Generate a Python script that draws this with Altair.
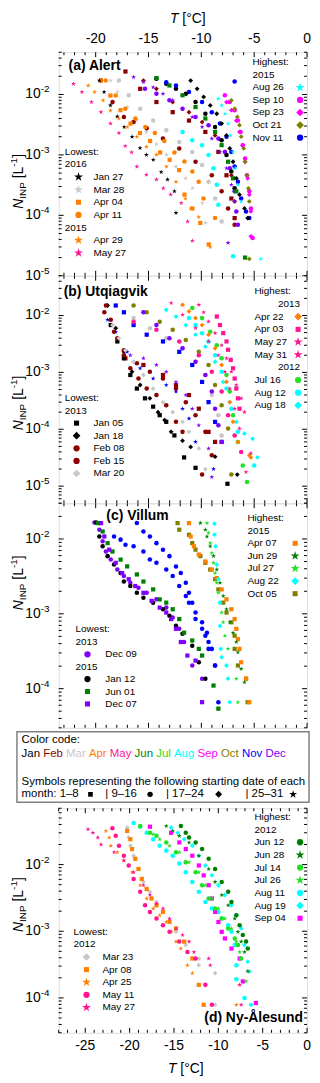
import altair as alt
import pandas as pd

FONT = "Liberation Sans"
W = 250

MONTHS = ["Jan", "Feb", "Mar", "Apr", "May", "Jun", "Jul", "Aug", "Sep", "Oct", "Nov", "Dec"]
MONTH_COLORS = ["#000000", "#8B0000", "#C8C8C8", "#FF8000", "#FF1493", "#008000",
                "#22E022", "#00FFFF", "#FF00FF", "#808000", "#0000FF", "#8000FF"]
DAY_GROUPS = ["1–8", "9–16", "17–24", "25–31"]
STAR = ("M0,-1L0.2245,-0.309L0.951,-0.309L0.363,0.118L0.588,0.809L0,0.382"
        "L-0.588,0.809L-0.363,0.118L-0.951,-0.309L-0.2245,-0.309Z")
SHAPES = ["square", "circle", "diamond", STAR]
PT_SIZE = [18, 26, 36, 56]
LG_SIZE = [26, 40, 60, 90]

# ---------------- Panel (a) Alert ----------------
a_may27 = dict(m=5, d=27, T=[-22.1, -21.3, -20.4, -19.5, -18.6, -17.8, -17.2, -16.6, -16.1, -15.2, -14.25, -13.6, -12.9, -11.9, -11.3, -10.85],
               N=[1.5e-2, 1.1e-2, 7.5e-3, 5.1e-3, 3.3e-3, 2.3e-3, 1.4e-3, 1.1e-3, 6.4e-4, 4.7e-4, 3.9e-4, 2.8e-4, 2.2e-4, 1.6e-4, 7.9e-5, 3.8e-5])
a_apr29 = dict(m=4, d=29, T=[-20.7, -20.1, -19.3, -18.6, -17.8, -17.0, -16.1, -15.2, -14.25, -13.3, -12.4, -11.5, -11.0, -10.25, -9.15],
               N=[1.4e-2, 1.1e-2, 8.0e-3, 5.4e-3, 4.0e-3, 2.9e-3, 2.0e-3, 1.36e-3, 1.0e-3, 6.4e-4, 3.6e-4, 1.9e-4, 1.3e-4, 9.4e-5, 3.0e-5])
a_jan27 = dict(m=1, d=27, T=[-19.65, -19.2, -18.6, -17.95, -17.3, -16.55, -15.8, -15.2, -14.55, -13.8, -13.2, -12.55, -12.4],
               N=[1.7e-2, 1.1e-2, 6.6e-3, 4.3e-3, 2.9e-3, 2.0e-3, 1.3e-3, 1.0e-3, 8.3e-4, 5.2e-4, 3.9e-4, 2.5e-4, 1.1e-4])
a_mar28 = dict(m=3, d=28, T=[-18.6, -17.95, -17.0, -16.1, -15.2, -14.25, -13.3, -12.4, -11.5, -10.85, -9.9, -9.6],
               N=[1.7e-2, 1.1e-2, 6.2e-3, 3.8e-3, 2.4e-3, 1.5e-3, 1.0e-3, 6.4e-4, 4.1e-4, 2.8e-4, 1.6e-4, 7.5e-5])
a_apr04 = dict(m=4, d=4, T=[-19.5, -18.6, -17.65, -16.7, -15.8, -14.85, -13.9, -13.0, -12.1, -11.6, -10.85, -10.1, -9.3],
               N=[1.7e-2, 9.6e-3, 5.5e-3, 3.3e-3, 2.3e-3, 1.7e-3, 1.1e-3, 8.3e-4, 5.6e-4, 2.2e-4, 1.3e-4, 7.5e-5, 3.3e-5])
a_apr11 = dict(m=4, d=11, T=[-19.05, -18.1, -17.2, -16.25, -15.3, -14.4, -13.5, -12.55, -11.6, -10.85, -10.25, -9.8, -8.7],
               N=[1.7e-2, 9.6e-3, 5.8e-3, 4.0e-3, 2.9e-3, 2.3e-3, 1.7e-3, 1.1e-3, 7.8e-4, 5.3e-4, 3.6e-4, 1.9e-4, 9.0e-5])
a_feb03 = dict(m=2, d=3, T=[-17.18, -15.79, -14.25, -12.71, -11.17, -9.62, -8.39, -7.62, -7.16, -6.85],
               N=[2.4e-2, 1.24e-2, 7.5e-3, 5.1e-3, 3.7e-3, 2.4e-3, 1.12e-3, 4.6e-4, 1.9e-4, 9.0e-5])
a_feb12 = dict(m=2, d=12, T=[-19.49, -18.4, -17.33, -16.41, -15.17, -13.63, -12.09, -10.55, -9.01, -8.08, -7.47, -6.85],
               N=[1.7e-2, 7.5e-3, 4.25e-3, 3.5e-3, 2.75e-3, 1.86e-3, 1.28e-3, 7.7e-4, 4.6e-4, 2.5e-4, 1.3e-4, 7.0e-5])
a_feb20 = dict(m=2, d=20, T=[-15.48, -14.25, -12.71, -11.17, -9.93, -8.70, -7.77, -7.16, -6.85],
               N=[1.7e-2, 1.24e-2, 7.5e-3, 5.1e-3, 3.5e-3, 2.1e-3, 1.12e-3, 4.6e-4, 1.7e-4])
a_dec28 = dict(m=12, d=28, T=[-16.41, -15.48, -14.56, -13.63, -12.71, -11.78, -10.86, -9.93, -9.01, -8.24, -7.62, -7.16, -6.85, -7.47],
               N=[1.94e-2, 1.6e-2, 1.32e-2, 1.03e-2, 8.0e-3, 5.8e-3, 4.25e-3, 2.9e-3, 1.86e-3, 1.12e-3, 6.0e-4, 3.2e-4, 1.7e-4, 3.5e-5])
a_dec10 = dict(m=12, d=10, T=[-15.33, -14.25, -13.02, -11.78, -10.55, -9.32, -8.39, -7.77, -7.31, -6.85, -6.69, -6.54],
               N=[1.24e-2, 1.03e-2, 8.0e-3, 5.8e-3, 4.25e-3, 3.1e-3, 1.86e-3, 1.12e-3, 6.0e-4, 2.5e-4, 1.16e-4, 7.0e-5])
a_jan20 = dict(m=1, d=20, T=[-11.01, -10.40, -9.78, -9.16, -8.54, -8.08, -7.62, -7.31, -7.0, -6.69, -6.39, -5.92, -5.62],
               N=[1.7e-2, 1.24e-2, 9.1e-3, 6.6e-3, 4.8e-3, 3.3e-3, 2.1e-3, 1.28e-3, 7.7e-4, 4.1e-4, 2.2e-4, 1.3e-4, 9.0e-5])
a_jan13 = dict(m=1, d=13, T=[-14.25, -13.32, -12.40, -11.47, -10.55, -9.62, -8.70, -8.08, -7.62, -7.16, -6.85],
               N=[1.82e-2, 1.5e-2, 1.24e-2, 1.03e-2, 7.5e-3, 4.8e-3, 2.9e-3, 1.75e-3, 1.0e-3, 5.3e-4, 2.8e-4])
a_jun05 = dict(m=6, d=5, T=[-14.25, -13.02, -11.78, -10.55, -9.62, -8.70, -8.08, -7.47, -7.0, -6.69, -5.86],
               N=[1.87e-2, 1.41e-2, 9.7e-3, 6.2e-3, 4.0e-3, 2.4e-3, 1.45e-3, 7.7e-4, 4.1e-4, 2.5e-4, 2.0e-5])
a_nov11 = dict(m=11, d=11, T=[-13.32, -12.40, -11.17, -9.93, -9.01, -8.24, -7.62, -7.16, -6.85, -6.54, -6.23, -5.77, -5.46, -6.85],
               N=[1.6e-2, 1.41e-2, 1.1e-2, 7.5e-3, 5.1e-3, 3.3e-3, 2.0e-3, 1.12e-3, 6.4e-4, 3.6e-4, 1.9e-4, 1.16e-4, 9.0e-5, 1.64e-2])
a_aug26 = dict(m=8, d=26, T=[-8.39, -8.08, -7.77, -7.47, -7.25, -7.0, -6.79, -6.54, -6.23, -4.38],
               N=[8.5e-3, 6.6e-3, 4.8e-3, 3.3e-3, 2.1e-3, 1.12e-3, 6.0e-4, 3.2e-4, 1.7e-4, 1.9e-5])
a_aug12 = dict(m=8, d=12, T=[-11.78, -10.86, -9.93, -9.32, -8.85, -8.54, -8.39, -7.0],
               N=[2.4e-3, 1.75e-3, 1.45e-3, 1.0e-3, 6.0e-4, 3.2e-4, 1.5e-4, 2.1e-5])
a_sep10 = dict(m=9, d=10, T=[-7.77, -7.31, -6.85, -6.54, -6.29, -6.08, -5.86, -5.68, -5.46, -5.31, -5.15],
               N=[9.7e-3, 7.5e-3, 5.5e-3, 3.7e-3, 2.4e-3, 1.45e-3, 8.7e-4, 4.6e-4, 2.5e-4, 1.3e-4, 4.2e-5])
a_sep23 = dict(m=9, d=23, T=[-7.62, -7.16, -6.69, -6.39, -6.08, -5.86, -5.62, -5.46, -5.31, -5.31],
               N=[7.5e-3, 5.5e-3, 3.7e-3, 2.4e-3, 1.45e-3, 7.7e-4, 4.1e-4, 2.2e-4, 1.16e-4, 4.5e-5])
a_oct21 = dict(m=10, d=21, T=[-7.16, -6.85, -6.60, -6.39, -6.23, -5.99, -5.86, -5.68, -5.55, -5.46, -5.46],
               N=[8.0e-3, 5.8e-3, 4.25e-3, 3.1e-3, 2.0e-3, 1.28e-3, 7.7e-4, 4.6e-4, 2.8e-4, 1.7e-4, 1.9e-5])
a_mar14 = dict(m=3, d=14, T=[-17.80, -16.87, -15.79, -14.56, -13.32, -12.09, -10.86, -9.93, -9.32, -8.70, -8.08],
               N=[1.7e-2, 9.7e-3, 5.8e-3, 3.7e-3, 2.56e-3, 1.64e-3, 1.12e-3, 6.8e-4, 3.6e-4, 1.9e-4, 7.9e-5])

# ---------------- Panel (b) Utqiagvik ----------------
b_jan05 = dict(m=1, d=5, T=[-18.57, -17.95, -17.33, -16.72, -16.10, -15.33, -14.56, -13.94, -13.32, -12.55, -11.63, -10.55, -7.53],
               N=[6.8e-3, 3.5e-3, 1.77e-3, 9.0e-4, 5.2e-4, 3.5e-4, 2.5e-4, 1.77e-4, 1.35e-4, 7.8e-5, 3.2e-5, 2.1e-5, 1.1e-5])
b_jan18 = dict(m=1, d=18, T=[-18.87, -18.10, -17.33, -16.56, -15.79, -14.87, -14.10, -13.48, -12.86, -11.78, -11.01, -8.70, -6.60],
               N=[1.5e-2, 6.0e-3, 2.3e-3, 1.03e-3, 6.0e-4, 3.5e-4, 2.0e-4, 1.45e-4, 9.0e-5, 6.3e-5, 4.9e-5, 3.3e-5, 1.6e-5])
b_feb08 = dict(m=2, d=8, g=1, T=[-19.03, -18.57, -17.95, -17.33, -16.72, -15.95, -15.17, -14.25, -13.32, -12.40, -11.78, -9.93],
               N=[1.5e-2, 8.4e-3, 4.0e-3, 2.0e-3, 1.18e-3, 7.8e-4, 5.2e-4, 4.0e-4, 2.65e-4, 1.35e-4, 9.0e-5, 1.6e-5])
b_feb15 = dict(m=2, d=15, T=[-19.18, -18.26, -17.33, -16.10, -14.87, -13.63, -12.40, -11.47, -10.55, -9.62, -9.01],
               N=[1.14e-2, 5.2e-3, 2.45e-3, 1.45e-3, 1.03e-3, 7.8e-4, 5.2e-4, 3.0e-4, 1.77e-4, 9.0e-5, 3.5e-5])
b_mar20 = dict(m=3, d=20, T=[-18.41, -17.80, -17.18, -16.41, -15.48, -14.56, -13.63, -12.71, -11.78, -11.17, -10.24, -9.62],
               N=[6.8e-3, 4.0e-3, 2.45e-3, 1.54e-3, 9.0e-4, 5.2e-4, 3.0e-4, 2.0e-4, 1.35e-4, 9.0e-5, 4.6e-5, 2.0e-5])
b_apr22 = dict(m=4, d=22, T=[-11.78, -11.17, -10.55, -9.93, -9.32, -8.70, -8.08, -7.62, -7.31, -7.0, -6.54, -5.46, -5.31],
               N=[1.54e-2, 1.18e-2, 9.0e-3, 6.8e-3, 4.6e-3, 2.65e-3, 1.35e-3, 6.8e-4, 3.0e-4, 1.35e-4, 6.0e-5, 3.5e-5, 3.2e-5])
b_apr03 = dict(m=4, d=3, c=5, T=[-8.54, -8.24, -7.93, -7.62, -7.47, -7.22, -7.0, -6.85, -6.69, -6.54, -6.39],
               N=[9.6e-3, 6.8e-3, 4.9e-3, 3.5e-3, 2.5e-3, 1.66e-3, 1.18e-3, 7.8e-4, 5.2e-4, 3.5e-4, 2.3e-4])
b_may27 = dict(m=5, d=27, T=[-10.24, -9.78, -9.32, -8.70, -8.08, -7.62, -7.16, -6.69, -6.23, -5.92, -5.31],
               N=[1.54e-2, 1.14e-2, 7.8e-3, 4.9e-3, 3.0e-3, 1.77e-3, 1.03e-3, 6.0e-4, 3.5e-4, 2.0e-4, 3.8e-5])
b_may31 = dict(m=5, d=31, T=[-12.86, -11.78, -10.55, -9.32, -8.39, -7.77, -7.31, -6.85, -6.39, -5.77],
               N=[1.66e-2, 1.03e-2, 6.0e-3, 3.5e-3, 2.0e-3, 1.03e-3, 5.2e-4, 2.3e-4, 1.03e-4, 1.77e-5])
b_jul16 = dict(m=7, d=16, T=[-10.86, -9.93, -9.16, -8.54, -8.08, -7.62, -7.31, -7.0, -6.54, -6.08, -5.68],
               N=[1.35e-2, 9.0e-3, 5.2e-3, 3.0e-3, 1.77e-3, 9.0e-4, 4.6e-4, 1.77e-4, 6.0e-5, 2.3e-5, 1.18e-5])
b_aug12 = dict(m=8, d=12, T=[-11.17, -10.55, -9.93, -9.32, -8.70, -8.08, -7.62, -7.16, -6.54, -5.0],
               N=[9.0e-3, 6.8e-3, 4.9e-3, 3.5e-3, 2.0e-3, 1.03e-3, 5.2e-4, 2.3e-4, 9.0e-5, 2.3e-5])
b_aug18 = dict(m=8, d=18, T=[-13.32, -12.40, -11.47, -10.55, -9.62, -8.70, -7.93, -7.31, -6.69, -5.92, -5.15, -4.69],
               N=[1.26e-2, 9.6e-3, 6.8e-3, 4.6e-3, 2.85e-3, 1.54e-3, 6.8e-4, 3.0e-4, 1.35e-4, 8.4e-5, 6.8e-5, 3.2e-5])
b_nov05 = dict(m=11, d=5, T=[-18.10, -17.33, -16.41, -15.17, -13.63, -12.09, -10.86, -9.93, -9.32, -8.70, -8.08],
               N=[1.5e-2, 1.14e-2, 6.8e-3, 4.6e-3, 3.5e-3, 2.3e-3, 1.35e-3, 6.8e-4, 3.0e-4, 1.35e-4, 6.0e-5])
b_nov27 = dict(m=11, d=27, T=[-18.87, -18.10, -17.02, -15.79, -14.56, -13.32, -12.40, -11.78, -11.17, -10.55, -8.85],
               N=[8.4e-3, 5.2e-3, 2.3e-3, 1.18e-3, 7.8e-4, 6.0e-4, 4.6e-4, 2.3e-4, 1.54e-4, 6.0e-5, 2.0e-5])
b_dec14 = dict(m=12, d=14, T=[-15.48, -14.25, -13.02, -11.78, -10.55, -9.62, -9.01, -8.70, -8.39, -8.08],
               N=[1.14e-2, 6.8e-3, 4.0e-3, 2.65e-3, 1.54e-3, 9.0e-4, 4.6e-4, 2.3e-4, 1.18e-4, 6.0e-5])
b_dec28 = dict(m=12, d=28, T=[-16.72, -15.48, -14.25, -13.32, -12.40, -11.47, -10.86, -10.24, -9.32, -9.01],
               N=[2.0e-3, 1.77e-3, 1.35e-3, 1.03e-3, 6.8e-4, 4.0e-4, 2.3e-4, 1.18e-4, 4.6e-5, 1.45e-5])
b_oct09 = dict(m=10, d=9, T=[-16.41, -15.17, -13.94, -12.71, -11.47, -10.24, -9.32, -8.70, -8.08, -7.47, -7.16],
               N=[1.5e-2, 1.14e-2, 7.8e-3, 5.6e-3, 3.7e-3, 2.3e-3, 1.35e-3, 6.0e-4, 2.65e-4, 1.03e-4, 1.6e-5])
b_mar12 = dict(m=3, d=12, T=[-16.41, -14.87, -13.32, -11.78, -10.55, -9.62, -9.01, -8.39, -8.08],
               N=[9.0e-3, 6.0e-3, 4.0e-3, 2.65e-3, 1.54e-3, 9.0e-4, 4.0e-4, 1.77e-4, 7.8e-5])
b_feb02 = dict(m=2, d=2, T=[-17.18, -15.48, -13.63, -12.40, -11.17, -10.24, -9.32, -8.70],
               N=[1.77e-3, 1.35e-3, 9.0e-4, 6.0e-4, 4.0e-4, 2.3e-4, 9.0e-5, 6.0e-5])
b_may12 = dict(m=5, d=12, T=[-16.41, -14.25, -12.09, -10.24, -9.01, -8.08, -7.47, -6.85, -6.23],
               N=[7.8e-3, 5.6e-3, 3.5e-3, 2.0e-3, 1.03e-3, 4.6e-4, 1.77e-4, 7.8e-5, 4.0e-5])

# ---------------- Panel (c) Villum ----------------
c_dec09 = dict(m=12, d=9, T=[-20.11, -19.65, -19.34, -19.03, -18.57, -17.95, -17.33, -16.72, -15.95, -15.17, -14.25, -13.32, -12.71, -12.09, -11.63, -10.86, -9.93],
               N=[1.66e-2, 1.33e-2, 9.3e-3, 6.8e-3, 5.3e-3, 3.9e-3, 3.2e-3, 2.6e-3, 2.23e-3, 1.91e-3, 1.56e-3, 1.21e-3, 8.9e-4, 6.3e-4, 4.2e-4, 2.04e-4, 1.36e-4])
c_jan12 = dict(m=1, d=12, T=[-19.95, -19.65, -19.34, -18.87, -18.26, -17.64, -17.33, -16.72, -16.10, -15.48, -14.56, -13.63, -13.02, -12.40, -11.78, -10.86, -10.24, -9.62],
               N=[1.66e-2, 1.08e-2, 8.0e-3, 5.9e-3, 4.55e-3, 3.5e-3, 2.7e-3, 2.35e-3, 1.91e-3, 1.64e-3, 1.41e-3, 1.15e-3, 9.4e-4, 6.9e-4, 5.4e-4, 3.75e-4, 2.25e-4, 1.36e-4])
c_jun01 = dict(m=6, d=1, T=[-19.80, -19.34, -18.87, -18.41, -17.64, -17.02, -16.10, -15.48, -14.56, -13.94, -13.32, -12.71, -12.09, -11.63, -10.86, -10.24, -9.93, -8.85, -8.39],
               N=[1.63e-2, 1.26e-2, 8.8e-3, 6.8e-3, 5.3e-3, 4.3e-3, 3.36e-3, 2.7e-3, 2.12e-3, 1.56e-3, 1.41e-3, 1.15e-3, 8.5e-4, 5.6e-4, 4.4e-4, 3.4e-4, 2.77e-4, 1.1e-4, 5.4e-5])
c_dec07 = dict(m=12, d=7, T=[-19.49, -19.18, -18.72, -18.10, -17.49, -16.87, -16.25, -15.48, -14.71, -13.94, -13.32, -12.86, -12.40, -11.94, -11.32, -10.55, -9.93],
               N=[1.63e-2, 1.08e-2, 7.2e-3, 4.8e-3, 3.5e-3, 2.9e-3, 2.35e-3, 1.91e-3, 1.49e-3, 1.21e-3, 1.04e-3, 8.5e-4, 6.3e-4, 4.2e-4, 2.77e-4, 2.37e-4, 6.6e-5])
c_nov12 = dict(m=11, d=12, T=[-16.10, -15.48, -14.87, -14.25, -13.63, -13.02, -12.40, -11.94, -11.47, -11.17, -10.86, -10.55, -9.93, -9.47, -9.32, -9.32, -8.70, -8.39],
               N=[1.63e-2, 1.26e-2, 1.08e-2, 8.8e-3, 7.2e-3, 5.9e-3, 4.3e-3, 3.5e-3, 2.6e-3, 1.91e-3, 1.41e-3, 1.04e-3, 7.7e-4, 5.6e-4, 4.2e-4, 3.4e-4, 2.04e-4, 6.6e-5])
c_nov14 = dict(m=11, d=14, T=[-18.26, -17.64, -17.18, -16.41, -15.48, -14.87, -14.25, -13.32, -12.71, -12.09, -11.47, -11.17, -10.55, -9.93, -9.62, -9.01, -8.70],
               N=[1.08e-2, 9.8e-3, 8.4e-3, 8.0e-3, 6.8e-3, 5.3e-3, 4.8e-3, 3.9e-3, 3.2e-3, 2.35e-3, 1.73e-3, 1.41e-3, 8.5e-4, 6.3e-4, 5.1e-4, 3.4e-4, 2.04e-4])
c_apr07 = dict(m=4, d=7, T=[-11.17, -11.01, -10.70, -10.24, -9.62, -9.01, -8.54, -8.08, -7.62, -7.16, -6.85, -6.69, -6.54, -6.39, -6.23, -5.77, -5.46],
               N=[1.63e-2, 1.08e-2, 8.0e-3, 6.2e-3, 5.0e-3, 3.9e-3, 3.0e-3, 2.12e-3, 1.56e-3, 1.15e-3, 8.5e-4, 6.3e-4, 4.6e-4, 3.4e-4, 2.25e-4, 1.36e-4, 6.6e-5])
c_jun29 = dict(m=6, d=29, T=[-10.09, -9.62, -9.47, -9.16, -8.85, -8.54, -8.24, -7.93, -7.62, -7.31, -7.00, -6.69, -6.54, -6.23, -5.92],
               N=[1.63e-2, 1.33e-2, 1.08e-2, 8.0e-3, 5.9e-3, 3.9e-3, 2.6e-3, 1.73e-3, 1.15e-3, 7.7e-4, 5.6e-4, 4.2e-4, 3.06e-4, 1.84e-4, 1.22e-4])
c_jul27 = dict(m=7, d=27, T=[-9.47, -9.32, -9.16, -9.01, -8.85, -8.70, -8.54, -8.39, -8.24, -8.08, -7.93, -7.77, -7.47, -6.69, -6.54],
               N=[1.63e-2, 1.2e-2, 8.8e-3, 6.5e-3, 4.8e-3, 3.5e-3, 2.6e-3, 1.91e-3, 1.41e-3, 1.04e-3, 7.7e-4, 5.1e-4, 3.4e-4, 1.36e-4, 6.6e-5])
c_aug22 = dict(m=8, d=22, T=[-8.76, -8.76, -8.64, -8.54, -8.39, -8.24, -8.24, -8.17, -8.08, -7.62, -7.47, -7.31],
               N=[1.6e-2, 1.14e-2, 8.0e-3, 4.55e-3, 2.9e-3, 1.41e-3, 6.9e-4, 3.4e-4, 2.63e-4, 2.04e-4, 1.36e-4, 6.6e-5])
c_oct05 = dict(m=10, d=5, T=[-12.25, -12.09, -11.17, -10.86, -10.55, -10.09, -9.62, -9.16, -8.70, -8.39, -7.93, -7.62, -7.16, -6.85, -6.85, -6.54, -5.77, -5.62],
               N=[1.63e-2, 1.33e-2, 1.14e-2, 8.8e-3, 7.2e-3, 5.9e-3, 4.8e-3, 3.9e-3, 2.9e-3, 2.12e-3, 1.41e-3, 1.04e-3, 7.7e-4, 5.1e-4, 3.4e-4, 2.04e-4, 1.36e-4, 6.6e-5])

# ---------------- Panel (d) Ny-Ålesund ----------------
d_may27 = dict(m=5, d=27, T=[-24.69, -24.14, -23.59, -23.22, -21.75, -20.65, -19.55, -18.44, -17.71, -16.97, -16.24, -15.50, -14.77, -14.03, -13.30, -12.75, -11.09, -10.91, -7.60, -7.42],
               N=[3.4e-2, 3.0e-2, 2.55e-2, 2.0e-2, 1.53e-2, 1.15e-2, 7.7e-3, 4.9e-3, 3.5e-3, 2.6e-3, 2.2e-3, 1.55e-3, 1.1e-3, 8.8e-4, 7.0e-4, 4.9e-4, 3.9e-4, 3.1e-4, 1.57e-4, 7.9e-5])
d_apr25 = dict(m=4, d=25, T=[-22.67, -22.30, -22.12, -21.38, -20.65, -19.73, -18.81, -18.08, -17.34, -16.61, -15.87, -15.32, -14.77, -14.22, -13.48, -12.93, -7.97],
               N=[3.2e-2, 2.55e-2, 1.92e-2, 1.53e-2, 1.15e-2, 7.7e-3, 4.9e-3, 3.1e-3, 2.2e-3, 1.74e-3, 1.38e-3, 9.8e-4, 7.0e-4, 5.5e-4, 3.1e-4, 2.35e-4, 7.9e-5])
d_may11 = dict(m=5, d=11, T=[-21.94, -21.57, -21.20, -20.65, -20.10, -19.55, -18.81, -18.26, -17.71, -16.97, -16.24, -15.50, -14.40, -13.48, -12.56, -11.46, -10.73],
               N=[3.5e-2, 2.7e-2, 1.92e-2, 1.36e-2, 9.7e-3, 6.1e-3, 3.9e-3, 2.45e-3, 1.95e-3, 1.55e-3, 1.23e-3, 9.8e-4, 7.0e-4, 4.9e-4, 3.9e-4, 1.57e-4, 7.9e-5])
d_apr08 = dict(m=4, d=8, T=[-20.28, -19.91, -19.73, -19.36, -19.0, -18.63, -18.08, -17.53, -16.97, -16.24, -15.50, -14.77, -13.85, -12.93, -12.20, -11.65],
               N=[3.2e-2, 2.4e-2, 1.71e-2, 1.22e-2, 8.6e-3, 6.1e-3, 4.3e-3, 3.1e-3, 2.45e-3, 1.95e-3, 1.38e-3, 1.1e-3, 7.0e-4, 3.9e-4, 1.57e-4, 7.9e-5])
d_mar23 = dict(m=3, d=23, T=[-20.28, -20.10, -19.91, -19.55, -19.0, -18.44, -17.71, -16.97, -16.24, -15.50, -14.77, -13.67, -12.20, -12.20, -10.36, -10.36],
               N=[3.6e-2, 2.55e-2, 1.92e-2, 1.36e-2, 8.6e-3, 5.5e-3, 3.9e-3, 2.75e-3, 1.95e-3, 1.46e-3, 9.8e-4, 6.2e-4, 3.9e-4, 3.1e-4, 2.35e-4, 7.9e-5])
d_jun12 = dict(m=6, d=12, T=[-14.22, -13.67, -13.30, -12.56, -11.83, -11.09, -10.36, -9.62, -8.89, -8.52, -7.97, -7.60, -7.24, -6.87, -6.68],
               N=[3.8e-2, 3.0e-2, 2.55e-2, 2.15e-2, 1.71e-2, 1.22e-2, 8.6e-3, 5.5e-3, 3.9e-3, 2.75e-3, 1.74e-3, 1.23e-3, 8.8e-4, 7.0e-4, 5.5e-4])
d_jun28 = dict(m=6, d=28, T=[-15.87, -15.14, -14.40, -13.30, -12.20, -11.09, -10.36, -9.62, -8.89, -8.15, -7.79, -7.42, -7.05, -6.68],
               N=[3.8e-2, 3.2e-2, 2.7e-2, 2.15e-2, 1.36e-2, 8.6e-3, 5.5e-3, 3.5e-3, 2.45e-3, 1.55e-3, 9.8e-4, 7.0e-4, 4.9e-4, 2.5e-4])
d_jul14 = dict(m=7, d=14, T=[-18.81, -17.71, -16.97, -15.87, -14.77, -13.67, -12.56, -11.83, -11.09, -10.36, -9.62, -8.89, -8.15, -7.79, -7.42],
               N=[3.8e-2, 3.0e-2, 2.7e-2, 2.15e-2, 1.53e-2, 1.08e-2, 7.7e-3, 4.9e-3, 3.1e-3, 2.2e-3, 1.55e-3, 1.1e-3, 7.8e-4, 6.2e-4, 3.9e-4])
d_jul26 = dict(m=7, d=26, T=[-17.34, -16.61, -15.50, -14.40, -13.30, -12.20, -11.46, -10.73, -9.99, -9.26, -8.52, -7.97, -7.60, -6.87],
               N=[2.85e-2, 2.4e-2, 1.92e-2, 1.53e-2, 1.08e-2, 7.7e-3, 4.9e-3, 3.1e-3, 2.2e-3, 1.55e-3, 1.1e-3, 7.0e-4, 4.9e-4, 1.77e-4])
d_aug11 = dict(m=8, d=11, T=[-19.55, -18.81, -18.08, -17.34, -16.61, -15.87, -15.14, -14.40, -13.67, -12.93, -12.20, -11.46, -10.73, -9.99, -9.62, -8.89, -8.52, -8.15, -7.97, -7.97, -7.05],
               N=[4.2e-2, 3.7e-2, 3.0e-2, 2.4e-2, 1.92e-2, 1.62e-2, 1.36e-2, 1.04e-2, 7.7e-3, 5.5e-3, 3.9e-3, 2.75e-3, 2.2e-3, 1.95e-3, 1.55e-3, 1.23e-3, 9.8e-4, 6.2e-4, 3.1e-4, 1.9e-4, 1.0e-4])
d_aug19 = dict(m=8, d=19, T=[-15.32, -14.59, -13.85, -12.93, -12.20, -11.46, -10.73, -9.99, -9.26, -8.52, -7.97, -7.42, -7.05, -6.68, -6.50, -6.32],
               N=[3.6e-2, 3.0e-2, 2.4e-2, 1.92e-2, 1.36e-2, 9.7e-3, 6.9e-3, 4.9e-3, 3.5e-3, 2.45e-3, 1.74e-3, 1.1e-3, 6.2e-4, 3.5e-4, 2.5e-4, 7.9e-5])
d_sep04 = dict(m=9, d=4, T=[-17.71, -15.32, -14.40, -13.67, -12.93, -12.20, -11.65, -11.09, -10.73, -10.36, -9.99, -9.62, -9.26, -8.52, -7.60, -7.24, -5.77],
               N=[3.7e-2, 3.0e-2, 2.15e-2, 1.71e-2, 1.36e-2, 9.7e-3, 6.9e-3, 4.9e-3, 3.1e-3, 1.95e-3, 1.38e-3, 9.8e-4, 7.8e-4, 5.5e-4, 3.9e-4, 1.77e-4, 8.4e-5])

A_SERIES = [a_mar14, a_mar28, a_feb12, a_feb03, a_feb20, a_dec28, a_dec10, a_jan13, a_jun05, a_aug12,
            a_apr04, a_apr11, a_jan27, a_apr29, a_may27, a_nov11, a_jan20, a_aug26, a_sep10, a_sep23, a_oct21]
B_SERIES = [b_mar12, b_feb02, b_oct09, b_nov05, b_nov27, b_dec14, b_dec28, b_may12, b_jan05, b_jan18,
            b_feb08, b_feb15, b_mar20, b_aug18, b_aug12, b_jul16, b_apr22, b_may31, b_may27, b_apr03]
C_SERIES = [c_dec09, c_jan12, c_jun01, c_dec07, c_nov12, c_nov14, c_oct05, c_apr07, c_jun29, c_jul27, c_aug22]
D_SERIES = [d_mar23, d_apr08, d_apr25, d_may11, d_may27, d_aug11, d_sep04, d_jul14, d_jul26, d_aug19, d_jun28, d_jun12]

# legend rows: ("h", text) heading, ("y", text) year, ("e", label, series)
A_HIGH = [("h", "Highest:"), ("y", "2015"), ("e", "Aug 26", a_aug26), ("e", "Sep 10", a_sep10),
          ("e", "Sep 23", a_sep23), ("e", "Oct 21", a_oct21), ("e", "Nov 11", a_nov11)]
A_LOW = [("h", "Lowest:"), ("y", "2016"), ("e", "Jan 27", a_jan27), ("e", "Mar 28", a_mar28),
         ("e", "Apr 04", a_apr04), ("e", "Apr 11", a_apr11), ("y", "2015"), ("e", "Apr 29", a_apr29),
         ("e", "May 27", a_may27)]
B_HIGH = [("h", "Highest:"), ("y", "2013"), ("e", "Apr 22", b_apr22), ("e", "Apr 03", b_apr03),
          ("e", "May 27", b_may27), ("e", "May 31", b_may31), ("y", "2012"), ("e", "Jul 16", b_jul16),
          ("e", "Aug 12", b_aug12), ("e", "Aug 18", b_aug18)]
B_LOW = [("h", "Lowest:"), ("y", "2013"), ("e", "Jan 05", b_jan05), ("e", "Jan 18", b_jan18),
         ("e", "Feb 08", b_feb08), ("e", "Feb 15", b_feb15), ("e", "Mar 20", b_mar20)]
C_HIGH = [("h", "Highest:"), ("y", "2015"), ("e", "Apr 07", c_apr07), ("e", "Jun 29", c_jun29),
          ("e", "Jul 27", c_jul27), ("e", "Aug 22", c_aug22), ("e", "Oct 05", c_oct05)]
C_LOW = [("h", "Lowest:"), ("y", "2013"), ("e", "Dec 09", c_dec09), ("y", "2015"), ("e", "Jan 12", c_jan12),
         ("e", "Jun 01", c_jun01), ("e", "Dec 07", c_dec07)]
D_HIGH = [("h", "Highest:"), ("y", "2012"), ("e", "Jun 12", d_jun12), ("e", "Jun 28", d_jun28),
          ("e", "Jul 14", d_jul14), ("e", "Jul 26", d_jul26), ("e", "Aug 11", d_aug11),
          ("e", "Aug 19", d_aug19), ("e", "Sep 04", d_sep04)]
D_LOW = [("h", "Lowest:"), ("y", "2012"), ("e", "Mar 23", d_mar23), ("e", "Apr 08", d_apr08),
         ("e", "Apr 25", d_apr25), ("e", "May 11", d_may11), ("e", "May 27", d_may27)]

X_TICKS_TOP = [-20, -15, -10, -5, 0]
X_TICKS_BOTTOM = [-25, -20, -15, -10, -5, 0]

ONE = alt.Data(values=[{"k": 0}])


def grp(s):
    if "g" in s:
        return s["g"]
    d = s["d"]
    return 0 if d <= 8 else 1 if d <= 16 else 2 if d <= 24 else 3


def col(s):
    return MONTH_COLORS[s.get("c", s["m"]) - 1]


def series_df(series):
    rows = []
    for s in series:
        for t, n in zip(s["T"], s["N"]):
            rows.append({"T": t, "N": n, "mc": MONTHS[s.get("c", s["m"]) - 1], "sg": DAY_GROUPS[grp(s)]})
    return pd.DataFrame(rows)


def txt(s, x, y, size=10, align="left", weight="normal", style="normal", color="black",
        baseline="middle", angle=0):
    kw = dict(text=s, align=align, baseline=baseline, fontSize=size, fontWeight=weight,
              fontStyle=style, color=color, font=FONT)
    if angle:
        kw["angle"] = angle
    return alt.Chart(ONE).mark_text(**kw).encode(x=alt.value(x), y=alt.value(y))


def marker(x, y, color, g, size=None):
    return alt.Chart(ONE).mark_point(filled=True, opacity=1, shape=SHAPES[g],
                                     size=size if size else LG_SIZE[g], color=color).encode(
        x=alt.value(x), y=alt.value(y))


def legend_block(rows, head_x, year_x, text_x, mark_x, y0, dy, year_align="left"):
    out = []
    for i, row in enumerate(rows):
        y = y0 + i * dy
        if row[0] == "h":
            out.append(txt(row[1], head_x, y))
        elif row[0] == "y":
            out.append(txt(row[1], year_x, y, align=year_align))
        else:
            s = row[2]
            out.append(txt(row[1], text_x, y))
            out.append(marker(mark_x, y, col(s), grp(s)))
    return out


def log_ticks(lo, hi):
    maj, mnr = [], []
    for k in range(-7, 0):
        for m in range(1, 10):
            v = m * 10.0 ** k
            if lo * 0.999 <= v <= hi * 1.001:
                (maj if m == 1 else mnr).append(v)
    return maj, mnr


def ytitle(c, x0=-36):
    start = c + 27.6
    return [
        txt("N", x0, start, size=14, style="italic", baseline="alphabetic", angle=270),
        txt("INP", x0 + 3, start - 10.1, size=10, baseline="alphabetic", angle=270),
        txt("[L", x0, start - 30.7, size=14, baseline="alphabetic", angle=270),
        txt("-1", x0 - 6, start - 42.4, size=10, baseline="alphabetic", angle=270),
        txt("]", x0, start - 51.3, size=14, baseline="alphabetic", angle=270),
    ]


def panel(series, xdom, ydom, H, decades, exps, c_title, extra):
    xs = alt.Scale(domain=xdom, nice=False, zero=False)
    ys = alt.Scale(type="log", domain=ydom, nice=False)
    X = lambda: alt.X("T:Q", scale=xs, axis=None)
    Y = lambda: alt.Y("N:Q", scale=ys, axis=None)
    layers = []
    pts = alt.Chart(series_df(series)).mark_point(filled=True, opacity=1).encode(
        x=X(), y=Y(),
        color=alt.Color("mc:N", scale=alt.Scale(domain=MONTHS, range=MONTH_COLORS), legend=None),
        shape=alt.Shape("sg:N", scale=alt.Scale(domain=DAY_GROUPS, range=SHAPES), legend=None),
        size=alt.Size("sg:O", scale=alt.Scale(domain=DAY_GROUPS, range=PT_SIZE), legend=None),
    )
    layers.append(pts)
    ymaj, ymin = log_ticks(*ydom)
    for vals, L in ((ymaj, 5), (ymin, 3)):
        base = alt.Chart(pd.DataFrame({"N": vals})).mark_rule(color="black", strokeWidth=1)
        layers.append(base.encode(y=Y(), x=alt.value(0), x2=alt.value(L)))
        layers.append(base.encode(y=Y(), x=alt.value(W), x2=alt.value(W - L)))
    xmaj = [v for v in range(-30, 1) if v % 5 == 0 and xdom[0] <= v <= xdom[1]]
    xmin = [v for v in range(-30, 1) if v % 5 != 0 and xdom[0] <= v <= xdom[1]]
    for vals, L in ((xmaj, 5), (xmin, 3)):
        base = alt.Chart(pd.DataFrame({"T": vals})).mark_rule(color="black", strokeWidth=1)
        layers.append(base.encode(x=X(), y=alt.value(0), y2=alt.value(L)))
        layers.append(base.encode(x=X(), y=alt.value(H), y2=alt.value(H - L)))
    ddf = pd.DataFrame({"N": decades, "e": exps})
    layers.append(alt.Chart(ddf).mark_text(text="10", align="right", baseline="middle", fontSize=14,
                                           font=FONT, color="black").encode(y=Y(), x=alt.value(-18)))
    layers.append(alt.Chart(ddf).mark_text(align="left", baseline="middle", fontSize=10, dy=-5,
                                           font=FONT, color="black").encode(
        y=Y(), x=alt.value(-18), text="e:N"))
    layers += ytitle(c_title)
    layers += extra(X)
    return alt.layer(*layers).properties(width=W, height=H)


def x_labels(ticks, y, X):
    df = pd.DataFrame({"T": ticks, "lab": [str(v) for v in ticks]})
    return alt.Chart(df).mark_text(fontSize=14, font=FONT, align="center", baseline="middle",
                                   color="black").encode(x=X(), y=alt.value(y), text="lab:N")


def extra_a(X):
    out = [txt("(a) Alert", 10, 14, size=14, weight="bold"),
           x_labels(X_TICKS_TOP, -13, X),
           txt("T", 112, -33, size=14, style="italic"),
           txt("[°C]", 124.5, -33, size=14)]
    out += legend_block(A_HIGH, 195, 195, 195, 243, 10, 12.67)
    out += legend_block(A_LOW, 6, 6, 35, 20, 100, 12.75)
    return out


def extra_b(X):
    out = [txt("(b) Utqiagvik", 5, 16, size=14, weight="bold")]
    out += legend_block(B_HIGH, 197, 243, 197, 241, 15.7, 12.75, year_align="right")
    out += legend_block(B_LOW, 6, 6, 35, 18, 123, 12.67)
    return out


def extra_c(X):
    out = [txt("(c) Villum", 48, 13, size=14, weight="bold")]
    out += legend_block(C_HIGH, 190, 190, 190, 238, 15, 12.67)
    out += legend_block(C_LOW, 17, 17, 47, 29, 127, 12.5)
    return out


def extra_d(X):
    out = [txt("(d) Ny-Ålesund", 246, 211, size=14, weight="bold", align="right"),
           x_labels(X_TICKS_BOTTOM, 239, X),
           txt("T", 110, 262, size=14, style="italic"),
           txt("[°C]", 122.5, 262, size=14)]
    out += legend_block(D_HIGH, 197, 197, 197, 243, 8.7, 12.75)
    out += legend_block(D_LOW, 15, 15, 44, 28, 124.4, 12.67)
    return out


pa = panel(A_SERIES, [-23.5, 0], [1e-5, 5e-2], 225, [1e-2, 1e-3, 1e-4, 1e-5], ["-2", "-3", "-4", "-5"], 130, extra_a)
pb = panel(B_SERIES, [-23.5, 0], [5e-6, 5e-2], 229, [1e-2, 1e-3, 1e-4, 1e-5], ["-2", "-3", "-4", "-5"], 128, extra_b)
pc = panel(C_SERIES, [-23.5, 0], [3e-5, 3e-2], 226, [1e-2, 1e-3, 1e-4], ["-2", "-3", "-4"], 80, extra_c)
pd_ = panel(D_SERIES, [-28, 0], [3e-5, 7e-2], 226, [1e-2, 1e-3, 1e-4], ["-2", "-3", "-4"], 97, extra_d)

# ---------------- colour / symbol code box ----------------
AW = {"J": 500, "a": 556, "n": 556, "F": 611, "e": 556, "b": 556, "M": 833, "r": 333, "A": 667,
      "p": 556, "y": 500, "u": 556, "l": 222, "g": 556, "S": 667, "O": 778, "c": 500, "t": 278,
      "N": 722, "o": 556, "v": 500, "D": 722, " ": 278}
BOX_FS = 11.5
BX = -37.3
box = [alt.Chart(ONE).mark_rect(fill="white", stroke="#808080", strokeWidth=1.5).encode(
    x=alt.value(-42), x2=alt.value(252), y=alt.value(4), y2=alt.value(75))]
box.append(txt("Color code:", BX, 12, size=BOX_FS))
xpos = BX
for mon, c in zip(MONTHS, MONTH_COLORS):
    box.append(txt(mon, xpos, 26, size=BOX_FS, color=c))
    xpos += (sum(AW[ch] for ch in mon) + AW[" "]) * BOX_FS / 1000
box.append(txt("Symbols representing the following starting date of each", BX, 54.7, size=BOX_FS))
box.append(txt("month: 1–8", BX, 67, size=BOX_FS))
box.append(marker(32, 67, "black", 0, 22))
box.append(txt("| 9–16", 47, 67, size=BOX_FS))
box.append(marker(92, 67, "black", 1, 30))
box.append(txt("| 17–24", 108, 67, size=BOX_FS))
box.append(marker(161, 67, "black", 2, 50))
box.append(txt("| 25–31", 188, 67, size=BOX_FS))
box.append(marker(236, 67, "black", 3, 70))
legend_box = alt.layer(*box).properties(width=W, height=81,
                                        view=alt.ViewBackground(stroke="transparent"))

chart = alt.vconcat(pa, pb, pc, legend_box, pd_, spacing=0, bounds="flush").properties(
    padding=0).configure_view(stroke="black", strokeWidth=1.2).configure(font=FONT)

chart.save("out.html", embed_options={"renderer": "svg", "actions": False})
